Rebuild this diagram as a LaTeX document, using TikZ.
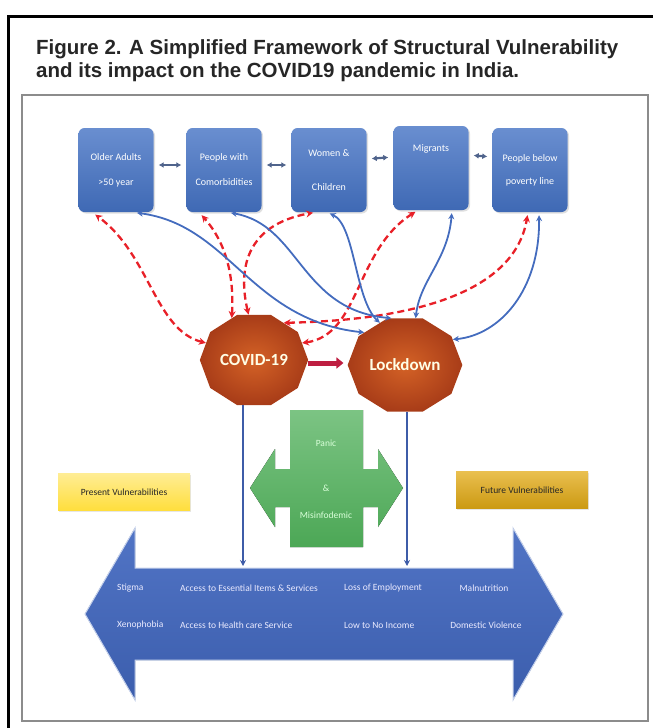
\documentclass[tikz,border=0pt]{standalone}
\usepackage{fontspec}
\setmainfont{Carlito}
\newfontfamily\titlefont{Liberation Sans}
\usetikzlibrary{arrows.meta,shapes.geometric,shadows}

\definecolor{grpblue}{RGB}{68,114,196}
\definecolor{covred}{RGB}{232,32,40}
\definecolor{lkblue}{RGB}{68,108,190}
\definecolor{pairgray}{RGB}{80,100,140}
\definecolor{octin}{RGB}{212,98,38}
\definecolor{octout}{RGB}{168,60,24}
\definecolor{linkred}{RGB}{190,30,65}
\definecolor{dropblue}{RGB}{62,92,168}
\definecolor{panicgreen}{RGB}{80,176,90}
\definecolor{presentyel}{RGB}{255,222,60}
\definecolor{futuregold}{RGB}{226,170,20}
\definecolor{arrowblue}{RGB}{66,104,192}
\definecolor{framegray}{RGB}{140,140,140}

\tikzset{
  titletext/.style={anchor=base west, inner sep=0pt, text=black!85,
    font=\titlefont\bfseries\fontsize{20.5}{24}\selectfont},
  grpbox/.style={rounded corners=6pt, minimum width=75pt, minimum height=84pt,
    inner sep=2pt, top color=grpblue!80!white, bottom color=grpblue!92!black,
    text=white, align=center, font=\fontsize{10}{12}\selectfont,
    drop shadow={opacity=0.25, shadow xshift=1.5pt, shadow yshift=-1.5pt}},
  octo/.style={regular polygon, regular polygon sides=10, inner sep=0pt,
    transform shape, inner color=octin, outer color=octout},
  octlabel/.style={text=yellow!10, font=\bfseries\fontsize{17}{20}\selectfont},
  vulbox/.style={minimum width=132pt, minimum height=37pt, inner sep=1pt,
    text=black!85, font=\fontsize{9.5}{11}\selectfont,
    drop shadow={opacity=0.2, shadow xshift=1pt, shadow yshift=-1.5pt}},
  covlink/.style={covred, line width=2.3pt, dash pattern=on 7pt off 4pt,
    {Stealth[length=7pt,width=7pt]}-{Stealth[length=7pt,width=7pt]}},
  lklink/.style={lkblue, line width=1.8pt,
    {Stealth[length=6pt,width=6pt]}-{Stealth[length=6pt,width=6pt]}},
  pairlink/.style={pairgray, line width=2.2pt, shorten <=5pt, shorten >=5pt,
    {Latex[length=5pt,width=6pt]}-{Latex[length=5pt,width=6pt]}},
  droplink/.style={dropblue, line width=2.2pt, -{Stealth[length=6pt,width=6pt]}},
  arrowtext/.style={anchor=west, inner sep=0pt, text=white!92!blue,
    font=\fontsize{9.5}{11}\selectfont}
}

\begin{document}
\begin{tikzpicture}[x=1pt,y=-1pt]
  \useasboundingbox (0,0) rectangle (653,728);

  % Frames round the figure
  \draw[line width=3pt] (8,728) -- (8,16) -- (653,16);
  \draw[framegray, line width=1.5pt] (22,95) rectangle (648,721);

  % Title
  \node[titletext] (titlea) at (36,54) {Figure 2. A Simplified Framework of Structural Vulnerability};
  \node[titletext] (titleb) at (36,77) {and its impact on the COVID19 pandemic in India.};

  % Vulnerable groups
  \node[grpbox] (older) at (116,170) {Older Adults\\[13pt]>50 year};
  \node[grpbox] (comor) at (224,170) {People with\\[13pt]Comorbidities};
  \node[grpbox] (women) at (329,170) {Women \&\\[22pt]Children};
  \node[grpbox] (migr)  at (431,168) {Migrants\\[28pt]\mbox{}};
  \node[grpbox] (poor)  at (530,170) {People below\\[11pt]poverty line};

  \draw[pairlink] ([yshift=5pt]older.east) -- ([yshift=5pt]comor.west);
  \draw[pairlink] ([yshift=5pt]comor.east) -- ([yshift=5pt]women.west);
  \draw[pairlink] ([yshift=11pt]women.east) -- ([yshift=11pt]migr.west);
  \draw[pairlink] ([yshift=13pt]migr.east) -- ([yshift=13pt]poor.west);

  % Big double arrow of vulnerabilities
  \fill[top color=arrowblue!92!white, bottom color=arrowblue!90!black,
    draw=white!70!arrowblue, line width=1pt]
    (85,614) -- (135,528) -- (135,568) -- (513,568) -- (513,528) -- (563,614)
    -- (513,700) -- (513,660) -- (135,660) -- (135,700) -- cycle;

  \node[arrowtext] (stigma) at (117,588) {Stigma};
  \node[arrowtext] (xeno)   at (117,625) {Xenophobia};
  \node[arrowtext] (essen)  at (180,588) {Access to Essential Items \& Services};
  \node[arrowtext] (health) at (180,625) {Access to Health care Service};
  \node[arrowtext] (employ) at (344,588) {Loss of Employment};
  \node[arrowtext] (income) at (344,625) {Low to No Income};
  \node[arrowtext, anchor=center] (malnu) at (484,588) {Malnutrition};
  \node[arrowtext, anchor=center] (domes) at (486,625) {Domestic Violence};

  % Present and future vulnerabilities
  \node[vulbox, top color=presentyel!55!white, bottom color=presentyel] (present) at (124,492) {Present Vulnerabilities};
  \node[vulbox, top color=futuregold!75!white, bottom color=futuregold!90!black] (future) at (522,490) {Future Vulnerabilities};

  % Panic and misinfodemic
  \fill[top color=panicgreen!75!white, bottom color=panicgreen!95!black]
    (290,410) -- (363,410) -- (363,469) -- (378,469) -- (378,449) -- (403,488)
    -- (378,527) -- (378,507) -- (363,507) -- (363,547) -- (290,547) -- (290,507)
    -- (275,507) -- (275,527) -- (250,488) -- (275,449) -- (275,469) -- (290,469) -- cycle;
  \node[align=center, text=white!85!green, font=\fontsize{9.5}{11}\selectfont] (panic) at (326,479)
    {Panic\\[34pt]\&\\[16pt]Misinfodemic};

  % COVID-19 and lockdown
  \begin{scope}[shift={(254,360)}]
    \node[octo, minimum size=95pt, xscale=1.14, label={[octlabel]center:COVID-19}] (cv) at (0,0) {};
  \end{scope}
  \begin{scope}[shift={(405,365)}]
    \node[octo, minimum size=98pt, xscale=1.17, label={[octlabel]center:Lockdown}] (ld) at (0,0) {};
  \end{scope}
  \draw[linkred, line width=5pt, -{Triangle[length=7pt,width=11pt]}]
    ([yshift=-3pt]cv.east) -- ([xshift=-4pt, yshift=-3pt]cv.east -| ld.west);

  % Drops into the vulnerabilities
  \coordinate (cvdrop) at (243,566);
  \coordinate (lddrop) at (407,566);
  \draw[droplink] (cv.south -| cvdrop) -- (cvdrop);
  \draw[droplink] (ld.south -| lddrop) -- (lddrop);

  % COVID-19 links (red, dashed)
  \draw[covlink, shorten >=4pt] (cv.158) .. controls (155,330) and (150,255) .. ([xshift=-24pt]older.south);
  \draw[covlink, shorten >=4pt] (cv.115) .. controls (234,280) and (228,245) .. ([xshift=-25pt]comor.south);
  \draw[covlink, shorten >=3pt] (cv.96) .. controls (238,270) and (245,225) .. ([xshift=-13pt]women.south);
  \draw[covlink, shorten >=3pt] (cv.22) .. controls (360,335) and (355,250) .. ([xshift=-13pt]migr.south);
  \draw[covlink, shorten >=3pt] (cv.55) .. controls (420,320) and (515,290) .. ([xshift=-2pt]poor.south);

  % Lockdown links (blue)
  \draw[lklink, shorten >=5pt] (ld.137) .. controls (250,320) and (230,225) .. ([xshift=16pt]older.south);
  \draw[lklink, shorten >=4pt] (ld.104) .. controls (300,310) and (300,225) .. ([xshift=3pt]comor.south);
  \draw[lklink, shorten >=3pt] (ld.117) .. controls (355,300) and (355,225) .. ([xshift=-2pt]women.south);
  \draw[lklink, shorten >=3pt] (ld.79) .. controls (420,280) and (448,260) .. ([xshift=21pt]migr.south);
  \draw[lklink, shorten >=3pt] (ld.32) .. controls (500,335) and (540,290) .. ([xshift=9pt]poor.south);

\end{tikzpicture}
\end{document}
